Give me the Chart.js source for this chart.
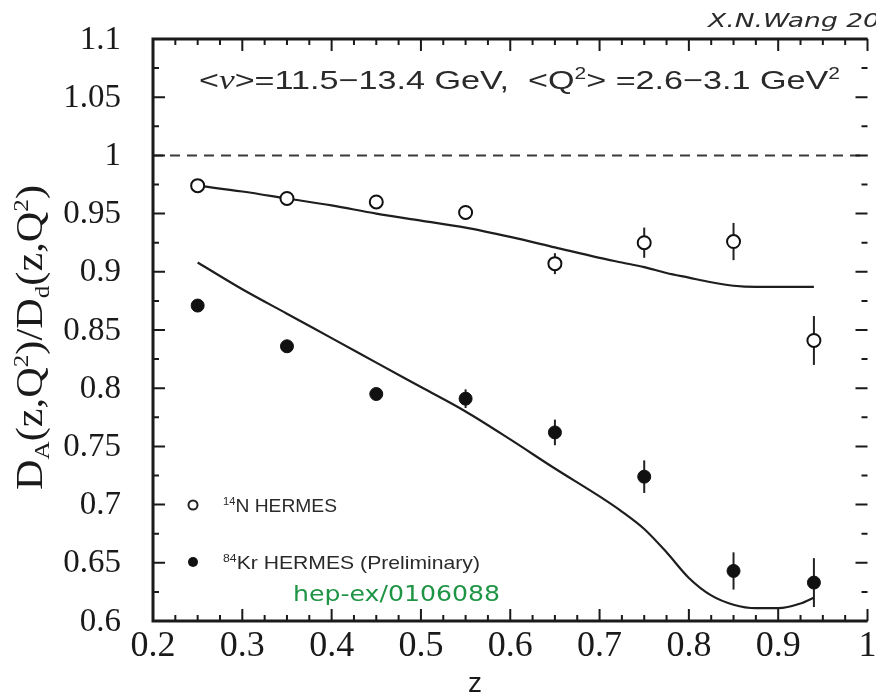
<!DOCTYPE html>
<html>
<head>
<meta charset="utf-8">
<script src="https://cdn.jsdelivr.net/npm/chart.js@4/dist/chart.umd.min.js"></script>
<style>
  html, body { margin: 0; padding: 0; background: #fff; }
  #wrap { width: 876px; height: 696px; }
</style>
</head>
<body>
<div id="wrap"><canvas id="chart" width="876" height="696"></canvas></div>
<script>
// HERMES points, z bins
const zPoints = [0.25, 0.35, 0.45, 0.55, 0.65, 0.75, 0.85, 0.94];
const nitrogen = [0.974, 0.963, 0.960, 0.951, 0.907, 0.925, 0.926, 0.841];
const nitrogenErr = [0.003, 0.003, 0.004, 0.006, 0.009, 0.013, 0.016, 0.021];
const krypton = [0.871, 0.836, 0.795, 0.791, 0.762, 0.724, 0.643, 0.633];
const kryptonErr = [0.004, 0.004, 0.005, 0.008, 0.011, 0.014, 0.016, 0.021];

// model curves
const curveZ = [0.25, 0.30, 0.35, 0.40, 0.45, 0.50, 0.55, 0.60, 0.65, 0.70, 0.725, 0.75, 0.775, 0.80, 0.825, 0.85, 0.875, 0.90, 0.925, 0.94];
const nitrogenCurve = [0.974, 0.969, 0.963, 0.957, 0.950, 0.944, 0.938, 0.930, 0.921, 0.912, 0.908, 0.904, 0.899, 0.895, 0.891, 0.888, 0.887, 0.887, 0.887, 0.887];
const kryptonCurve = [0.908, 0.885, 0.864, 0.843, 0.822, 0.801, 0.780, 0.756, 0.731, 0.707, 0.694, 0.679, 0.659, 0.637, 0.622, 0.614, 0.611, 0.611, 0.615, 0.620];

// axis labels
const xTickLabels = ['0.2', '0.3', '0.4', '0.5', '0.6', '0.7', '0.8', '0.9', '1'];
const yTickLabels = ['0.6', '0.65', '0.7', '0.75', '0.8', '0.85', '0.9', '0.95', '1', '1.05', '1.1'];

const toXY = (xs, ys) => xs.map((x, i) => ({ x, y: ys[i] }));

function fontFor(mode, size, family) {
  const s = mode === 'n' ? size : Math.round(size * 0.6);
  return s + 'px ' + family;
}

// draw text runs with sub/superscripts, squeezed to a given width
function drawRich(ctx, parts, x, y, size, family, fitWidth) {
  let w = 0;
  parts.forEach(([t, m, f]) => { ctx.font = f || fontFor(m, size, family); w += ctx.measureText(t).width; });
  const k = fitWidth ? fitWidth / w : 1;
  ctx.save();
  ctx.translate(x, y);
  ctx.scale(k, 1);
  let cx = 0;
  parts.forEach(([t, m, f]) => {
    ctx.font = f || fontFor(m, size, family);
    const dy = m === 'sup' ? -size * 0.38 : m === 'sub' ? size * 0.2 : 0;
    ctx.fillText(t, cx, dy);
    cx += ctx.measureText(t).width;
  });
  ctx.restore();
}

const decor = {
  id: 'decor',
  beforeDatasetsDraw(chart) {
    const { ctx, scales: { x, y }, chartArea: a } = chart;
    ctx.save();
    // reference line at ratio 1
    ctx.strokeStyle = '#3a3a3a';
    ctx.lineWidth = 2;
    ctx.setLineDash([10, 7]);
    ctx.beginPath();
    ctx.moveTo(a.left, y.getPixelForValue(1));
    ctx.lineTo(a.right, y.getPixelForValue(1));
    ctx.stroke();
    ctx.setLineDash([]);
    // error bars
    ctx.strokeStyle = '#222';
    [[nitrogen, nitrogenErr], [krypton, kryptonErr]].forEach(([vals, errs]) => {
      vals.forEach((v, i) => {
        const px = x.getPixelForValue(zPoints[i]);
        ctx.beginPath();
        ctx.moveTo(px, y.getPixelForValue(v - errs[i]));
        ctx.lineTo(px, y.getPixelForValue(v + errs[i]));
        ctx.stroke();
      });
    });
    ctx.restore();
  },
  afterDraw(chart) {
    const { ctx, scales: { x, y }, chartArea: a } = chart;
    ctx.save();
    ctx.strokeStyle = '#1a1a1a';
    ctx.fillStyle = '#1a1a1a';

    // frame
    ctx.lineWidth = 3;
    ctx.beginPath();
    ctx.moveTo(a.right, a.top);
    ctx.lineTo(a.left, a.top);
    ctx.lineTo(a.left, a.bottom);
    ctx.lineTo(a.right, a.bottom);
    ctx.stroke();

    // inward ticks, minor every 0.025
    ctx.lineWidth = 2;
    for (let i = 0; i <= 20; i++) {
      const py = y.getPixelForValue(0.6 + i * 0.025);
      const len = i % 2 === 0 ? 12 : 6;
      ctx.beginPath();
      ctx.moveTo(a.left, py); ctx.lineTo(a.left + len, py);
      ctx.moveTo(a.right, py); ctx.lineTo(a.right - len, py);
      ctx.stroke();
    }
    for (let i = 0; i <= 32; i++) {
      const px = x.getPixelForValue(0.2 + i * 0.025);
      const len = i % 4 === 0 ? 12 : 6;
      ctx.beginPath();
      ctx.moveTo(px, a.bottom); ctx.lineTo(px, a.bottom - len);
      ctx.moveTo(px, a.top); ctx.lineTo(px, a.top + len);
      ctx.stroke();
    }

    // tick labels
    ctx.font = '33px "Liberation Serif"';
    ctx.textAlign = 'right';
    ctx.textBaseline = 'middle';
    yTickLabels.forEach(t => ctx.fillText(t, 121, y.getPixelForValue(parseFloat(t)) + 1));
    ctx.font = '36px "Liberation Serif"';
    ctx.textAlign = 'center';
    ctx.textBaseline = 'alphabetic';
    xTickLabels.forEach(t => ctx.fillText(t, x.getPixelForValue(parseFloat(t)), 656));

    // axis titles
    ctx.textAlign = 'left';
    ctx.font = '28px "Liberation Sans"';
    ctx.fillText('z', 468, 692);
    ctx.save();
    ctx.translate(42, 490);
    ctx.rotate(-Math.PI / 2);
    drawRich(ctx, [['D', 'n'], ['A', 'sub'], ['(z,Q', 'n'], ['2', 'sup'], [')/D', 'n'],
      ['d', 'sub'], ['(z,Q', 'n'], ['2', 'sup'], [')', 'n']], 0, 0, 37, '"Liberation Serif"', 305);
    ctx.restore();

    // kinematic range
    ctx.fillStyle = '#2a2a2a';
    drawRich(ctx, [['<', 'n'], ['ν', 'n', 'italic 27px "Liberation Serif"'], ['>=11.5−13.4 GeV,  <Q', 'n'],
      ['2', 'sup'], ['> =2.6−3.1 GeV', 'n'], ['2', 'sup']], 199, 89, 26, '"Liberation Sans"', 641);

    // legend
    ctx.lineWidth = 2;
    ctx.strokeStyle = '#222';
    ctx.beginPath();
    ctx.arc(193, 505, 4.5, 0, Math.PI * 2);
    ctx.fillStyle = '#fff'; ctx.fill(); ctx.stroke();
    ctx.beginPath();
    ctx.arc(193, 562, 5, 0, Math.PI * 2);
    ctx.fillStyle = '#111'; ctx.fill();
    ctx.fillStyle = '#2a2a2a';
    drawRich(ctx, [['14', 'sup'], ['N HERMES', 'n']], 223, 512, 19, '"Liberation Sans"', 114);
    drawRich(ctx, [['84', 'sup'], ['Kr HERMES (Preliminary)', 'n']], 223, 569, 19, '"Liberation Sans"', 257);

    // handwritten notes
    ctx.fillStyle = '#1f9445';
    drawRich(ctx, [['hep-ex/0106088', 'n']], 293, 601, 21, '"DejaVu Sans"', 207);
    ctx.fillStyle = '#2b2b2b';
    drawRich(ctx, [['X.N.Wang 20', 'n', 'italic 20px "DejaVu Sans"']], 708, 27, 20, '"DejaVu Sans"', 172);
    ctx.restore();
  }
};

new Chart(document.getElementById('chart'), {
  type: 'scatter',
  data: {
    datasets: [
      {
        data: toXY(zPoints, nitrogen),
        pointRadius: 6.5,
        pointBackgroundColor: '#fff',
        pointBorderColor: '#111',
        pointBorderWidth: 2,
        order: 1
      },
      {
        data: toXY(zPoints, krypton),
        pointRadius: 6.5,
        pointBackgroundColor: '#111',
        pointBorderColor: '#111',
        pointBorderWidth: 1,
        order: 1
      },
      {
        data: toXY(curveZ, nitrogenCurve),
        showLine: true,
        borderColor: '#1e1e1e',
        borderWidth: 2.2,
        pointRadius: 0,
        cubicInterpolationMode: 'monotone',
        order: 2
      },
      {
        data: toXY(curveZ, kryptonCurve),
        showLine: true,
        borderColor: '#1e1e1e',
        borderWidth: 2.2,
        pointRadius: 0,
        cubicInterpolationMode: 'monotone',
        order: 2
      }
    ]
  },
  options: {
    responsive: false,
    animation: false,
    devicePixelRatio: 1,
    layout: { padding: { left: 153, top: 39, right: 0, bottom: 75 } },
    scales: {
      x: { type: 'linear', min: 0.2, max: 1.0, display: false },
      y: { type: 'linear', min: 0.6, max: 1.1, display: false }
    },
    plugins: { legend: { display: false }, tooltip: { enabled: false } }
  },
  plugins: [decor]
});
</script>
</body>
</html>
